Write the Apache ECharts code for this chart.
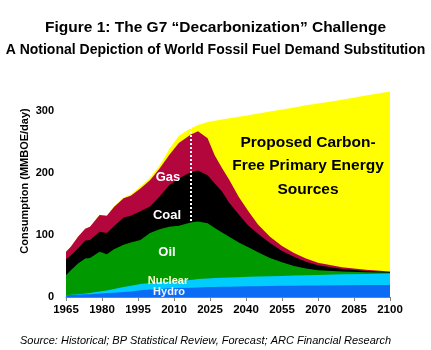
<!DOCTYPE html>
<html><head><meta charset="utf-8">
<script src="https://cdn.jsdelivr.net/npm/echarts@6/dist/echarts.min.js"></script>
<style>html,body{margin:0;padding:0;background:#fff}#c{width:431px;height:350px}</style>
</head><body><div id="c"></div>
<script>
const years = [1965,1967,1970,1973,1975,1979,1982,1985,1989,1992,1996,2000,2004,2008,2012,2017,2020,2024,2027,2030,2033,2037,2041,2045,2050,2055,2060,2065,2070,2080,2090,2100];
// per-source amounts (MMBOE/day), stacked bottom to top
const hydro   = [3,3.3,3.8,4.3,4.6,5.8,6.4,7,8,9,11,12,13,14,14.5,15,15.5,16,16.3,16.5,16.7,17,17.3,17.5,17.8,18,18.3,18.5,18.7,19,19.3,19.5];
const nuclear = [0.3,0.5,0.8,1.4,2,3,4,6,8,9,10,10.5,11,11.5,11.5,12.5,13.5,14,14.2,14.5,14.8,15,15.2,15.5,15.7,16,16.2,16.5,16.8,17.5,17.9,18.5];
const oil     = [31.7,39.2,49.4,56.3,56.4,64.2,58.6,64,68,70,71,80.5,85,87.5,89,92.5,92.5,89,80.5,73,65.5,56,47.5,39,29.5,22,15.5,11,7.5,4.5,2.8,1];
const coal    = [26,24,24,29,29,32,34,37,44,43,46,43,53,67,76,81,82.5,77,72,66,55,45,35,30,24,18,15,11,8,4,2,1];
const gas     = [12,14,19,19,21,27,28,31,31,32,37,42,45,49,57,61,63,60,45,38,37,28,23,15,10,8,6,5,4,3,2,1];
const carbonFree = [0,0,0,0,0,0.5,0.5,1,1.5,2,3,4,5,9,12,10,10,26,56,78,99,129.5,155,178.5,202,220,234.5,247,257,270,280.5,290];
const forecastStart = 2017;
const yTicks = [0,100,200,300];

const layers = [
  {name:'Hydro',data:hydro,color:'#0A6CF5'},
  {name:'Nuclear',data:nuclear,color:'#00CCFF'},
  {name:'Oil',data:oil,color:'#009A00'},
  {name:'Coal',data:coal,color:'#000000'},
  {name:'Gas',data:gas,color:'#B2063D'},
  {name:'Carbon-Free',data:carbonFree,color:'#FFFF00'}
];
// cumulative tops, computed from the arrays
const cum = [];
layers.forEach((l,k)=>{
  cum.push(years.map((y,i)=>(k? cum[k-1][i]:0)+l.data[i]));
});

const chart = echarts.init(document.getElementById('c'));
const FONT = 'Liberation Sans, Arial, sans-serif';
const fIdx = years.indexOf(forecastStart);

// draw top layer first; each lower cumulative area painted over it
const series = layers.map((l,k)=>({k,l})).reverse().map(({k,l},j)=>({
  name:l.name, type:'line', data: years.map((y,i)=>[y,cum[k][i]]),
  symbol:'none', smooth:false, lineStyle:{width:0},
  areaStyle:{color:l.color,opacity:1}, itemStyle:{color:l.color}, z:2+j
}));
series.push({
  name:'forecast', type:'line', data:[], z:20,
  markLine:{symbol:'none',silent:true,label:{show:false},
    lineStyle:{color:'#fff',type:[2,2],width:2},
    data:[[{coord:[forecastStart,0]},{coord:[forecastStart,cum[5][fIdx]]}]]}
});

chart.setOption({
  animation:false,
  backgroundColor:'#fff',
  grid:{left:66,right:41,top:86,bottom:53},
  xAxis:{type:'value',min:1965,max:2100,interval:15,
    axisLine:{show:true,lineStyle:{color:'#808080',width:1}},
    axisTick:{show:true,inside:false,length:4,lineStyle:{color:'#808080'}},
    splitLine:{show:false},
    axisLabel:{color:'#000',fontWeight:'bold',fontSize:11.5,fontFamily:FONT,margin:7,formatter:v=>String(v)}},
  yAxis:{type:'value',min:0,max:340,interval:100,
    axisLine:{show:false},axisTick:{show:false},splitLine:{show:false},
    axisLabel:{color:'#000',fontWeight:'bold',fontSize:11,fontFamily:FONT,margin:12,
      formatter:v=> yTicks.includes(v)? String(v):''}},
  series,
  graphic:[
    {type:'text',left:'center',top:20,style:{text:'Figure 1: The G7 “Decarbonization” Challenge',font:'bold 15.5px '+FONT,fill:'#000'}},
    {type:'text',left:'center',top:43,style:{text:'A Notional Depiction of World Fossil Fuel Demand Substitution',font:'bold 14px '+FONT,fill:'#000'}},
    {type:'text',x:25,y:181,rotation:Math.PI/2,style:{text:'Consumption (MMBOE/day)',font:'bold 11px '+FONT,fill:'#000',align:'center',verticalAlign:'middle'}},
    {type:'text',x:168,y:177,style:{text:'Gas',font:'bold 13px '+FONT,fill:'#fff',align:'center',verticalAlign:'middle'},z:30},
    {type:'text',x:167,y:215,style:{text:'Coal',font:'bold 13px '+FONT,fill:'#fff',align:'center',verticalAlign:'middle'},z:30},
    {type:'text',x:167,y:252,style:{text:'Oil',font:'bold 13px '+FONT,fill:'#fff',align:'center',verticalAlign:'middle'},z:30},
    {type:'text',x:168,y:281,style:{text:'Nuclear',font:'bold 11px '+FONT,fill:'#FFFFCC',align:'center',verticalAlign:'middle'},z:30},
    {type:'text',x:169,y:291.5,style:{text:'Hydro',font:'bold 11px '+FONT,fill:'#F0F0FF',align:'center',verticalAlign:'middle'},z:30},
    {type:'text',x:308,y:166,style:{text:'Proposed Carbon-\nFree Primary Energy\nSources',font:'bold 15.5px '+FONT,fill:'#000',align:'center',verticalAlign:'middle',lineHeight:23.5},z:30},
    {type:'text',x:20,top:335,style:{text:'Source: Historical; BP Statistical Review, Forecast; ARC Financial Research',font:'italic 11px '+FONT,fill:'#000'}}
  ]
});
</script></body></html>
